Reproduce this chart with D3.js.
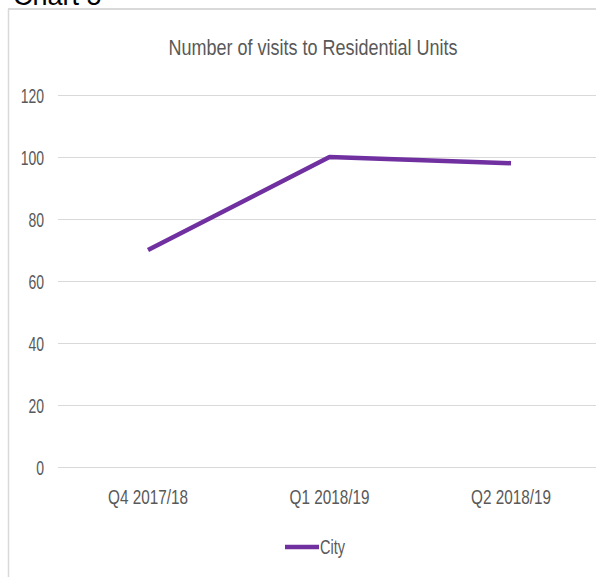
<!DOCTYPE html>
<html>
<head>
<meta charset="utf-8">
<script src="https://cdn.jsdelivr.net/npm/d3@7"></script>
<style>
  html, body { margin: 0; padding: 0; background: #fff; }
  svg { display: block; }
  text { font-family: "Liberation Sans", Arial, sans-serif; }
</style>
</head>
<body>
<svg id="chart" width="596" height="577"></svg>
<script>
// Visits per quarter
const categories = ["Q4 2017/18", "Q1 2018/19", "Q2 2018/19"];
const cityVisits = [70, 100, 98];
const yTicks = [0, 20, 40, 60, 80, 100, 120];
const seriesName = "City";
const chartTitle = "Number of visits to Residential Units";
const pageHeading = "Chart 5";

const W = 596, H = 577;
const svg = d3.select("#chart");
const purple = "#7030A0";
const textGray = "#595959";

// Text in this chart is drawn tall and narrow
function tallText(g, x, y, str, size, sy, anchor, fill) {
  return g.append("text")
    .attr("transform", `translate(${x},${y}) scale(1,${sy})`)
    .attr("text-anchor", anchor)
    .attr("dominant-baseline", "central")
    .attr("font-size", size)
    .attr("fill", fill || textGray)
    .text(str);
}

// Page heading, mostly above the visible area
svg.append("text")
  .attr("x", 13).attr("y", 5)
  .attr("font-size", 27)
  .attr("fill", "#000")
  .text(pageHeading);

// Chart frame (top and left edges visible)
svg.append("line").attr("x1", 8).attr("x2", W).attr("y1", 9).attr("y2", 9)
  .attr("stroke", "#d9d9d9").attr("stroke-width", 2);
svg.append("line").attr("x1", 8.5).attr("x2", 8.5).attr("y1", 9).attr("y2", H)
  .attr("stroke", "#d9d9d9").attr("stroke-width", 1.5);

const x = d3.scalePoint().domain(categories).range([148, 511]);
const y = d3.scaleLinear().domain([0, 120]).range([467, 95]);

// Gridlines
const grid = svg.append("g");
grid.selectAll("line").data(yTicks).join("line")
  .attr("x1", 58).attr("x2", W)
  .attr("y1", d => y(d) + 0.5).attr("y2", d => y(d) + 0.5)
  .attr("stroke", "#d9d9d9").attr("stroke-width", 1);

// Y axis labels
const yAxis = svg.append("g");
yTicks.forEach(t => tallText(yAxis, 44, y(t) + 0.5, String(t), 14, 1.5, "end"));

// X axis labels
const xAxis = svg.append("g");
categories.forEach(c => tallText(xAxis, x(c), 497, c, 15.3, 1.37, "middle"));

// Title
tallText(svg, 313, 47, chartTitle, 18, 1.25, "middle");

// Series line
const line = d3.line().x((d, i) => x(categories[i])).y(d => y(d));
svg.append("path")
  .datum(cityVisits)
  .attr("d", line)
  .attr("fill", "none")
  .attr("stroke", purple)
  .attr("stroke-width", 4.5)
  .attr("stroke-linejoin", "round");

// Legend
const legend = svg.append("g");
legend.append("line").attr("x1", 285).attr("x2", 319).attr("y1", 547).attr("y2", 547)
  .attr("stroke", purple).attr("stroke-width", 4.5);
tallText(legend, 320, 547, seriesName, 14.5, 1.4, "start");
</script>
</body>
</html>
